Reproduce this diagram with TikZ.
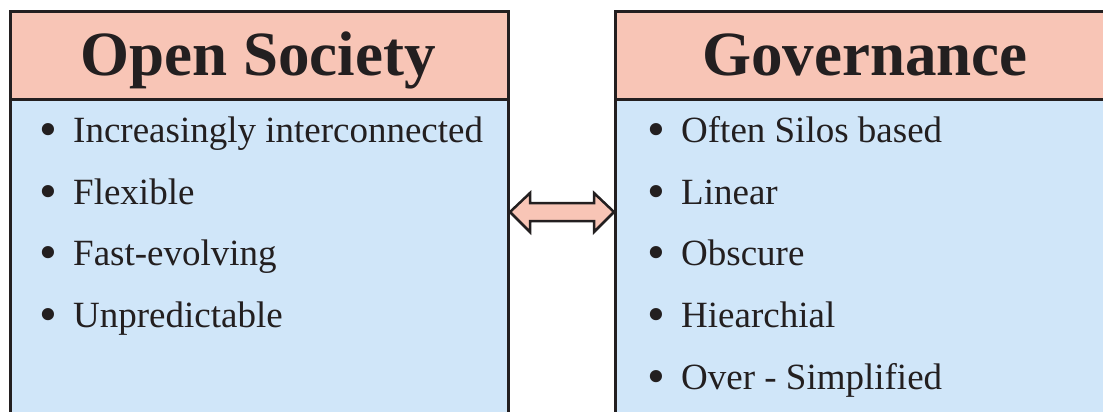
\documentclass[tikz,border=0pt]{standalone}
\usepackage{fontspec}
\setmainfont{Liberation Serif}
\definecolor{hdr}{RGB}{248,197,182}
\definecolor{bdy}{RGB}{208,230,249}
\definecolor{ink}{RGB}{35,31,32}
\tikzset{
  boxline/.style={draw=ink, line width=3pt},
  hdrbox/.style={boxline, fill=hdr, inner sep=0pt, anchor=north west},
  bdybox/.style={boxline, fill=bdy, inner sep=0pt, anchor=north west},
  title/.style={anchor=base, inner sep=0pt, text=ink, font=\fontsize{63}{63}\selectfont\bfseries},
  item/.style={anchor=base west, inner sep=0pt, text=ink, font=\fontsize{37}{37}\selectfont},
  arrowshape/.style={draw=ink, fill=hdr, line width=2.5pt, line join=miter}
}
\newcommand{\itm}[1]{\makebox[30pt][l]{\hspace{-4pt}\raisebox{-4.5pt}{\fontsize{51}{51}\selectfont•}}#1}
\begin{document}
\begin{tikzpicture}[x=1pt,y=-1pt]
\useasboundingbox (0,0) rectangle (1103,412);
\clip (0,0) rectangle (1103,412);
% left column
\node[bdybox, minimum width=498pt, minimum height=340pt] (lb) at (9,98) {};
\node[hdrbox, minimum width=498pt, minimum height=88pt] (lh) at (9,10) {};
% right column
\node[bdybox, minimum width=500pt, minimum height=340pt] (rb) at (614,98) {};
\node[hdrbox, minimum width=500pt, minimum height=88pt] (rh) at (614,10) {};
% titles
\node[title] (lt) at (258,76) {Open Society};
\node[title] (rt) at (865,76) {Governance};
% left items
\node[item] (l1) at (43,142) {\itm{Increasingly interconnected}};
\node[item] (l2) at (43,204) {\itm{Flexible}};
\node[item] (l3) at (43,265) {\itm{Fast-evolving}};
\node[item] (l4) at (43,327) {\itm{Unpredictable}};
% right items
\node[item] (r1) at (651,142) {\itm{Often Silos based}};
\node[item] (r2) at (651,204) {\itm{Linear}};
\node[item] (r3) at (651,265) {\itm{Obscure}};
\node[item] (r4) at (651,327) {\itm{Hiearchial}};
\node[item] (r5) at (651,389) {\itm{Over - Simplified}};
% double arrow between the boxes
\draw[arrowshape] (lb.east |- 0,212) -- (530,193) -- (530,203) -- (594,203) -- (594,193)
  -- (rb.west |- 0,212) -- (594,232) -- (594,221) -- (530,221) -- (530,232) -- cycle;
\end{tikzpicture}
\end{document}
